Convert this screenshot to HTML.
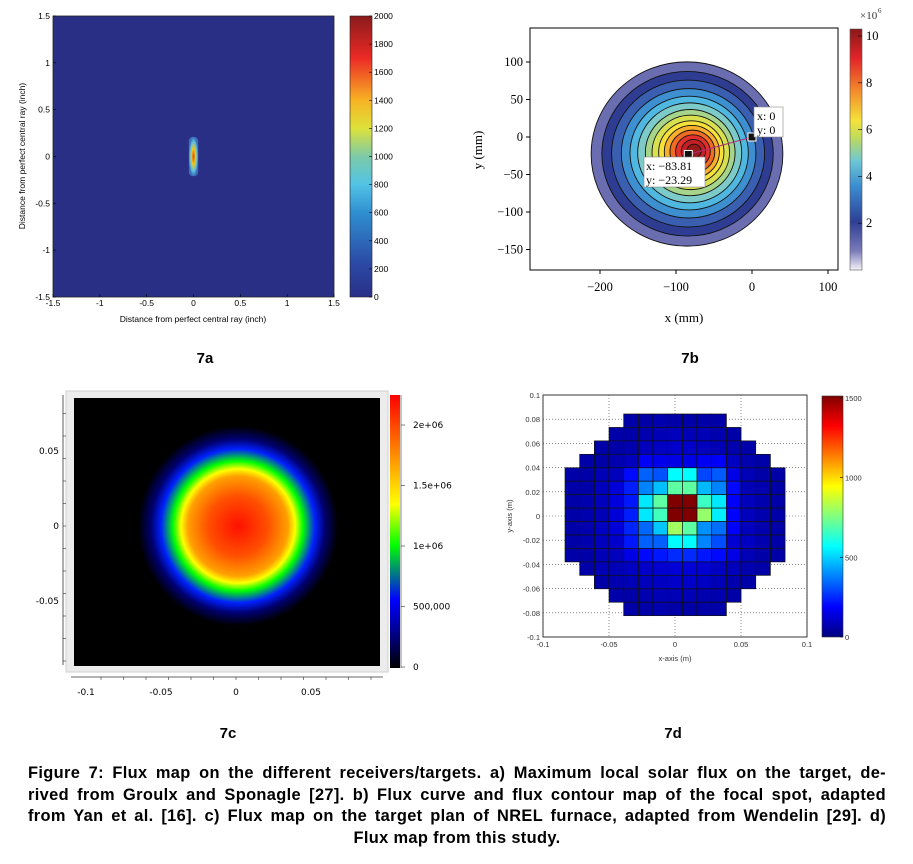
<!DOCTYPE html>
<html><head><meta charset="utf-8"><style>
body{margin:0;background:#fff;width:913px;height:864px;overflow:hidden;font-family:"Liberation Sans",Arial,sans-serif}
#cap{position:absolute;left:28px;top:763px;width:858px;font-weight:bold;font-size:16.4px;letter-spacing:0.35px;line-height:21.5px;color:#000}
#cap div{text-align:justify;text-align-last:justify;white-space:nowrap}
</style></head><body>
<svg id="fig" width="913" height="864" style="position:absolute;left:0;top:0">
<defs>
<linearGradient id="cbA" x1="0" y1="1" x2="0" y2="0"><stop offset="0" stop-color="#2a2f86"/><stop offset="0.12" stop-color="#2b4aa5"/><stop offset="0.3" stop-color="#2f8fd0"/><stop offset="0.4" stop-color="#52c3e6"/><stop offset="0.5" stop-color="#7ccaa8"/><stop offset="0.6" stop-color="#dde23a"/><stop offset="0.7" stop-color="#f7b324"/><stop offset="0.85" stop-color="#ec2a25"/><stop offset="1" stop-color="#8b1a1c"/></linearGradient>
<linearGradient id="cbB" x1="0" y1="1" x2="0" y2="0"><stop offset="0" stop-color="#f4f2f8"/><stop offset="0.08" stop-color="#7a7ab8"/><stop offset="0.2" stop-color="#2e3f96"/><stop offset="0.35" stop-color="#3b8ed0"/><stop offset="0.45" stop-color="#6cc6d6"/><stop offset="0.55" stop-color="#bfdc5a"/><stop offset="0.62" stop-color="#f5e23a"/><stop offset="0.75" stop-color="#f3862a"/><stop offset="0.88" stop-color="#e2232a"/><stop offset="1" stop-color="#8a1818"/></linearGradient>
<linearGradient id="cbC" x1="0" y1="1" x2="0" y2="0"><stop offset="0" stop-color="#000"/><stop offset="0.15" stop-color="#0000a0"/><stop offset="0.25" stop-color="#0000ff"/><stop offset="0.45" stop-color="#00ff00"/><stop offset="0.6" stop-color="#ffff00"/><stop offset="0.8" stop-color="#ff8000"/><stop offset="1" stop-color="#ff0000"/></linearGradient>
<linearGradient id="cbD" x1="0" y1="1" x2="0" y2="0"><stop offset="0" stop-color="#000080"/><stop offset="0.125" stop-color="#0000ff"/><stop offset="0.375" stop-color="#00ffff"/><stop offset="0.625" stop-color="#ffff00"/><stop offset="0.875" stop-color="#ff0000"/><stop offset="1" stop-color="#800000"/></linearGradient>
<radialGradient id="spotC" cx="238" cy="526" r="100" gradientUnits="userSpaceOnUse"><stop offset="0" stop-color="#ff1000"/><stop offset="0.3" stop-color="#ff5000"/><stop offset="0.5" stop-color="#ffa000"/><stop offset="0.57" stop-color="#ffff00"/><stop offset="0.65" stop-color="#00ff00"/><stop offset="0.77" stop-color="#0020ff"/><stop offset="0.87" stop-color="#000070"/><stop offset="1" stop-color="#000"/></radialGradient>
<radialGradient id="spotA" cx="0.5" cy="0.5" r="0.5"><stop offset="0" stop-color="#d04a1a"/><stop offset="0.4" stop-color="#f2c61c"/><stop offset="0.75" stop-color="#5cc0e0"/><stop offset="1" stop-color="#3a6cb8"/></radialGradient>
</defs>
<g id="pA"></g>
<g id="pB"></g>
<g id="pC"></g>
<g id="pD"></g>
<g font-weight="bold" font-size="15" text-anchor="middle">
<text x="205" y="363">7a</text>
<text x="690" y="363">7b</text>
<text x="228" y="738">7c</text>
<text x="673" y="738">7d</text>
</g>
</svg>
<div id="cap">
<div>Figure 7: Flux map on the different receivers/targets. a) Maximum local solar flux on the target, de-</div>
<div>rived from Groulx and Sponagle [27]. b) Flux curve and flux contour map of the focal spot, adapted</div>
<div>from Yan et al. [16]. c) Flux map on the target plan of NREL furnace, adapted from Wendelin [29]. d)</div>
<div style="text-align:center;text-align-last:center">Flux map from this study.</div>
</div>
<script>
const NS="http://www.w3.org/2000/svg";
function mk(p,tag,at,txt){const e=document.createElementNS(NS,tag);for(const k in at)e.setAttribute(k,at[k]);if(txt!==undefined)e.textContent=txt;p.appendChild(e);return e;}

// ---- Panel A data ----
const aTicks=[-1.5,-1,-0.5,0,0.5,1,1.5];
const aTickLabels=["-1.5","-1","-0.5","0","0.5","1","1.5"];
const aCbTicks=[0,200,400,600,800,1000,1200,1400,1600,1800,2000];
const aSpot=[0,0,0.1,0.42]; // x, y, width, height (inch)
// ---- Panel B data ----
const bXTicks=[-200,-100,0,100];
const bYTicks=[100,50,0,-50,-100,-150];
const bCbTicks=[2,4,6,8,10];
const bRingRadii=[94,84,75,66,58,51,44,38,32,27,22,17,12,7];
const bRingColors=["#6a6eb0","#2e3d92","#3a5fb0","#3e8fd0","#50b8e0","#7ccbc8","#a5d48a","#d8e050","#f7e03a","#f8b02c","#f06c24","#e2302a","#c41f24","#981a1b"];
const bPoints=[[0,0],[-83.81,-23.29]];
// ---- Panel C data ----
const cXTicks=[-0.1,-0.05,0,0.05];
const cYTicks=[0.05,0,-0.05];
const cCbTicks=[0,500000,1000000,1500000,2000000];
const cCbLabels=["0","500,000","1e+06","1.5e+06","2e+06"];
// ---- Panel D data ----
const dTicks=[-0.1,-0.05,0,0.05,0.1];
const dYTicks=[0.1,0.08,0.06,0.04,0.02,0,-0.02,-0.04,-0.06,-0.08,-0.1];
const dCbTicks=[0,500,1000,1500];
const dN=null;
const dGrid=[
[dN,dN,dN,dN,60,60,70,60,60,60,60,dN,dN,dN,dN],
[dN,dN,dN,60,60,70,80,90,80,80,70,60,dN,dN,dN],
[dN,dN,60,60,70,90,100,110,110,90,80,70,60,dN,dN],
[dN,60,60,70,90,180,160,150,150,170,180,100,70,60,dN],
[60,60,80,90,200,330,310,560,560,290,320,150,80,60,60],
[60,60,90,130,230,380,470,700,700,460,380,200,80,70,60],
[60,70,90,140,220,530,700,1500,1500,650,530,180,90,70,60],
[60,70,80,130,230,530,660,1500,1500,780,540,190,90,70,60],
[60,70,100,130,240,340,480,800,700,400,350,180,90,70,60],
[60,70,90,110,220,330,330,560,560,380,300,120,100,70,60],
[60,60,80,90,150,200,220,250,250,220,200,150,80,60,60],
[dN,60,80,80,100,110,120,130,130,120,100,90,70,60,dN],
[dN,dN,60,70,80,90,100,110,110,100,80,70,60,dN,dN],
[dN,dN,dN,60,60,70,80,80,80,70,70,60,dN,dN,dN],
[dN,dN,dN,dN,60,60,70,60,60,60,60,dN,dN,dN,dN]];
const dCell=1/90, dX0=-0.0833, dY0=0.0843;

// ===== Panel A =====
(function(){
const g=document.getElementById('pA');
const L=53,R=334,T=16,B=297;
const sx=v=>L+(v+1.5)/3*(R-L), sy=v=>B-(v+1.5)/3*(B-T);
let e=mk(g,'rect',{x:L,y:T,width:R-L,height:B-T,fill:'#2a2f86',stroke:'#222','stroke-width':0.8});

e=mk(g,'rect',{x:sx(aSpot[0]-aSpot[2]/2),y:sy(aSpot[1]+aSpot[3]/2),width:sx(aSpot[2])-sx(0),height:sy(0)-sy(aSpot[3]),rx:4,fill:'url(#spotA)'});

aTicks.forEach((t,i)=>{
 mk(g,'line',{x1:sx(t),x2:sx(t),y1:B,y2:B-3,stroke:'#000','stroke-width':0.6});
 mk(g,'line',{x1:L,x2:L+3,y1:sy(t),y2:sy(t),stroke:'#000','stroke-width':0.6});
 e=mk(g,'text',{x:sx(t),y:B+9,'font-size':8.5,'text-anchor':'middle'},aTickLabels[i]);
 
 e=mk(g,'text',{x:L-3,y:sy(t)+3,'font-size':8.5,'text-anchor':'end'},aTickLabels[i]);
 
});
e=mk(g,'text',{x:193,y:322,'font-size':8.5,'text-anchor':'middle'},'Distance from perfect central ray (inch)');

e=mk(g,'text',{x:25,y:156,'font-size':8.5,'text-anchor':'middle',transform:'rotate(-90 25 156)'},'Distance from perfect central ray (inch)');

e=mk(g,'rect',{x:350,y:T,width:22,height:B-T,fill:'url(#cbA)',stroke:'#222','stroke-width':0.6});

aCbTicks.forEach(t=>{const y=B-t/2000*(B-T);
 mk(g,'line',{x1:369,x2:372,y1:y,y2:y,stroke:'#000','stroke-width':0.6});
 e=mk(g,'text',{x:374,y:y+3,'font-size':8.5},String(t));
 });
})();

// ===== Panel B =====
(function(){
const g=document.getElementById('pB');
const sx=v=>752+v*0.76, sy=v=>137-v*0.75;
let e=mk(g,'rect',{x:530,y:28,width:308,height:242,fill:'#fff',stroke:'#000','stroke-width':1});

const cx0=687,cy0=154,cx1=694,cy1=151;
bRingRadii.forEach((r,i)=>{const f=i/(bRingRadii.length-1);
 e=mk(g,'ellipse',{cx:cx0+(cx1-cx0)*f,cy:cy0+(cy1-cy0)*f,rx:r*1.02,ry:r*0.98,fill:bRingColors[i],stroke:'#111','stroke-width':0.9});
 });
mk(g,'line',{x1:sx(bPoints[0][0]),y1:sy(bPoints[0][1]),x2:sx(bPoints[1][0]),y2:sy(bPoints[1][1]),stroke:'#b0307a','stroke-width':1});
bPoints.forEach(p=>{e=mk(g,'rect',{x:sx(p[0])-4,y:sy(p[1])-4,width:8,height:8,fill:'#111',stroke:'#fff','stroke-width':1});
 });
e=mk(g,'rect',{x:754,y:107,width:29,height:30,fill:'#fff',stroke:'#888','stroke-width':0.6});

mk(g,'text',{x:757,y:120,'font-size':12,'font-family':'Liberation Serif,serif'},'x: 0');
mk(g,'text',{x:757,y:134,'font-size':12,'font-family':'Liberation Serif,serif'},'y: 0');
e=mk(g,'rect',{x:644,y:157,width:61,height:30,fill:'#fff',stroke:'#888','stroke-width':0.6});

mk(g,'text',{x:646,y:170,'font-size':12,'font-family':'Liberation Serif,serif'},'x: \u221283.81');
mk(g,'text',{x:646,y:184,'font-size':12,'font-family':'Liberation Serif,serif'},'y: \u221223.29');
bXTicks.forEach(t=>{mk(g,'line',{x1:sx(t),x2:sx(t),y1:270,y2:274,stroke:'#000'});
 e=mk(g,'text',{x:sx(t),y:291,'font-size':12.5,'text-anchor':'middle','font-family':'Liberation Serif,serif'},t<0?'\u2212'+(-t):String(t));
 });
bYTicks.forEach(t=>{mk(g,'line',{x1:526,x2:530,y1:sy(t),y2:sy(t),stroke:'#000'});
 e=mk(g,'text',{x:523,y:sy(t)+4,'font-size':12.5,'text-anchor':'end','font-family':'Liberation Serif,serif'},t<0?'\u2212'+(-t):String(t));
 });
e=mk(g,'text',{x:684,y:322,'font-size':13,'text-anchor':'middle','font-family':'Liberation Serif,serif'},'x (mm)');

e=mk(g,'text',{x:482,y:150,'font-size':13,'text-anchor':'middle','font-family':'Liberation Serif,serif',transform:'rotate(-90 482 150)'},'y (mm)');

e=mk(g,'rect',{x:850,y:29,width:12,height:241,fill:'url(#cbB)',stroke:'#555','stroke-width':0.6});

bCbTicks.forEach(t=>{const y=270-t/10.3*241;
 mk(g,'line',{x1:858,x2:862,y1:y,y2:y,stroke:'#000','stroke-width':0.6});
 e=mk(g,'text',{x:866,y:y+4,'font-size':12.5,'font-family':'Liberation Serif,serif'},String(t));
 });
mk(g,'text',{x:860,y:19,'font-size':11,'font-family':'Liberation Serif,serif',fill:'#333'},'\u00d710');
mk(g,'text',{x:878,y:13,'font-size':7,'font-family':'Liberation Serif,serif',fill:'#333'},'6');
})();

// ===== Panel C =====
(function(){
const g=document.getElementById('pC');
const sx=v=>236+v*1500, sy=v=>526-v*1500;
let e=mk(g,'rect',{x:66,y:391,width:322,height:281,fill:'#ececec',stroke:'#cfcfcf'});

e=mk(g,'rect',{x:74,y:398,width:306,height:268,fill:'url(#spotC)'});

mk(g,'line',{x1:63,x2:63,y1:395,y2:665,stroke:'#333','stroke-width':0.8});
mk(g,'line',{x1:71,x2:383,y1:677,y2:677,stroke:'#333','stroke-width':0.8});
for(let v=-0.09;v<=0.09;v+=0.015){mk(g,'line',{x1:sx(v),x2:sx(v),y1:677,y2:680,stroke:'#333','stroke-width':0.6});
 if(sy(v)>395&&sy(v)<666)mk(g,'line',{x1:63,x2:66,y1:sy(v),y2:sy(v),stroke:'#333','stroke-width':0.6});}
cXTicks.forEach(t=>{e=mk(g,'text',{x:sx(t),y:695,'font-size':9,'text-anchor':'middle','font-family':'DejaVu Sans,sans-serif'},String(t));
 });
cYTicks.forEach(t=>{e=mk(g,'text',{x:59,y:sy(t)+3,'font-size':9,'text-anchor':'end','font-family':'DejaVu Sans,sans-serif'},String(t));
 });
e=mk(g,'rect',{x:390,y:395,width:10,height:273,fill:'url(#cbC)'});

mk(g,'line',{x1:401,x2:401,y1:395,y2:668,stroke:'#333','stroke-width':0.6});
cCbTicks.forEach((t,i)=>{const y=667-t/2000000*242;
 mk(g,'line',{x1:401,x2:405,y1:y,y2:y,stroke:'#333','stroke-width':0.6});
 e=mk(g,'text',{x:413,y:y+3,'font-size':9,'font-family':'DejaVu Sans,sans-serif'},cCbLabels[i]);
 });
})();

// ===== Panel D =====
(function(){
const g=document.getElementById('pD');
const L=543,R=807,T=395,B=637;
const sx=v=>L+(v+0.1)/0.2*(R-L), sy=v=>B-(v+0.1)/0.2*(B-T);
function jet(v){const t=Math.max(0,Math.min(1,v/1500));const c=x=>Math.round(255*Math.max(0,Math.min(1,1.5-Math.abs(4*t-x))));return `rgb(${c(3)},${c(2)},${c(1)})`;}
let e=mk(g,'rect',{x:L,y:T,width:R-L,height:B-T,fill:'#fff',stroke:'#000','stroke-width':0.8});

dTicks.forEach(t=>{mk(g,'line',{x1:sx(t),x2:sx(t),y1:T,y2:B,stroke:'#444','stroke-width':0.6,'stroke-dasharray':'1 2'});});
dYTicks.forEach(t=>{mk(g,'line',{x1:L,x2:R,y1:sy(t),y2:sy(t),stroke:'#444','stroke-width':0.6,'stroke-dasharray':'1 2'});});
dGrid.forEach((row,r)=>row.forEach((v,c)=>{if(v===null)return;
 const x0=sx(dX0+c*dCell),x1=sx(dX0+(c+1)*dCell),y0=sy(dY0-r*dCell),y1=sy(dY0-(r+1)*dCell);
 const cell=mk(g,'rect',{x:x0,y:y0,width:x1-x0,height:y1-y0,fill:jet(v),stroke:'#111','stroke-width':0.7});
 
 }));
dTicks.forEach(t=>{e=mk(g,'text',{x:sx(t),y:B+10,'font-size':7.5,'text-anchor':'middle',fill:'#333'},String(t));
 });
dYTicks.forEach(t=>{e=mk(g,'text',{x:L-3,y:sy(t)+3,'font-size':7.5,'text-anchor':'end',fill:'#333'},String(t));
 });
e=mk(g,'text',{x:675,y:661,'font-size':7.5,'text-anchor':'middle',fill:'#333'},'x-axis (m)');

e=mk(g,'text',{x:512,y:516,'font-size':7.5,'text-anchor':'middle',fill:'#333',transform:'rotate(-90 512 516)'},'y-axis (m)');

e=mk(g,'rect',{x:822,y:396,width:21,height:241,fill:'url(#cbD)',stroke:'#333','stroke-width':0.6});

dCbTicks.forEach(t=>{const y=637-t/1500*239;
 mk(g,'line',{x1:840,x2:843,y1:y,y2:y,stroke:'#000','stroke-width':0.6});
 e=mk(g,'text',{x:845,y:y+3,'font-size':7.5,fill:'#333'},String(t));
 });
})();
</script>
</body></html>
